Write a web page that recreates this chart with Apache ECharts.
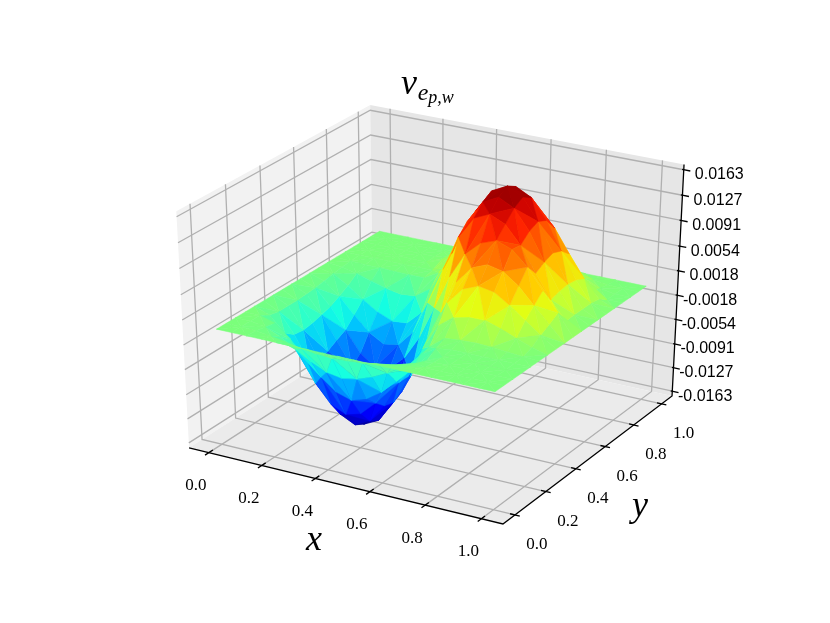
<!DOCTYPE html>
<html><head><meta charset="utf-8">
<style>html,body{margin:0;padding:0;background:#fff}#c{width:830px;height:623px}</style>
<script src="https://cdn.jsdelivr.net/npm/echarts@6/dist/echarts.min.js"></script>
</head><body><div id="c"></div>
<script>
// ---- data ----
const xTicks = [0, 0.2, 0.4, 0.6, 0.8, 1.0];
const yTicks = [0, 0.2, 0.4, 0.6, 0.8, 1.0];
const xTickLabels = ['0.0','0.2','0.4','0.6','0.8','1.0'];
const yTickLabels = ['0.0','0.2','0.4','0.6','0.8','1.0'];
const zTicks = [-0.0163,-0.0127,-0.0091,-0.0054,-0.0018,0.0018,0.0054,0.0091,0.0127,0.0163];
const zTickLabels = ['-0.0163','-0.0127','-0.0091','-0.0054','-0.0018','0.0018','0.0054','0.0091','0.0127','0.0163'];
// surface height in units of 1e-4; rows run along y, columns along x, 19 x 19 mesh nodes on [0,1]
const zUnit = 1e-4;
const zRows = [
[0,0,0,0,0,0,0,0,0,0,0,0,0,0,0,0,0,0,0],
[0,0,-1,-4,-8,-12,-15,-16,-15,-13,-10,-6,-2,0,0,0,0,0,0],
[0,0,-4,-14,-27,-40,-50,-54,-50,-42,-31,-18,-7,-1,0,0,0,0,0],
[0,0,-7,-25,-47,-71,-88,-95,-88,-73,-52,-30,-11,-2,0,0,0,0,0],
[0,-8,-30,-60,-94,-120,-130,-124,-103,-72,-42,-17,-3,0,0,0,0,0,0],
[0,-11,-40,-77,-116,-144,-155,-144,-116,-76,-45,-14,3,5,6,5,3,1,0],
[0,-11,-42,-82,-122,-152,-163,-152,-120,-76,-30,8,25,30,30,23,14,6,0],
[0,-11,-40,-77,-116,-144,-155,-144,-112,-62,-11,33,57,66,62,48,31,15,0],
[0,-10,-36,-69,-104,-129,-139,-129,-98,-47,6,54,79,88,83,67,44,22,0],
[0,-9,-32,-62,-92,-108,-104,-84,-49,0,49,86,106,114,106,86,57,30,0],
[0,-7,-25,-48,-69,-82,-78,-54,-6,47,98,129,139,129,104,69,36,10,0],
[0,-4,-17,-33,-47,-56,-54,-33,11,62,112,144,155,144,116,77,40,11,0],
[0,-2,-7,-14,-20,-24,-22,-7,30,76,120,152,163,152,122,82,42,11,0],
[0,-1,-2,-2,-3,-3,-3,9,38,76,116,144,155,144,116,77,40,11,0],
[0,0,0,0,0,0,0,9,34,65,98,121,130,121,98,65,34,9,0],
[0,0,0,0,0,0,7,25,47,71,88,95,88,71,47,25,7,0,0],
[0,0,0,0,0,0,4,14,27,40,50,54,50,40,27,14,4,0,0],
[0,0,0,0,0,0,1,4,8,12,15,16,15,12,8,4,1,0,0],
[0,0,0,0,0,0,0,0,0,0,0,0,0,0,0,0,0,0,0]
];
const zExtent = [-0.0163, 0.0163];
const jetColors = ['#00007f','#0000c8','#0000ff','#0040ff','#0080ff','#00bfff','#14ffe2','#48ffaf','#7bff7b','#afff48','#e2ff14','#ffd200','#ff9700','#ff5c00','#ff2100','#c80000','#7f0000'];

// ---- 3D view (elev 30, azim -60, dist 10) ----
const xLim = [-0.076, 1.076], yLim = [-0.076, 1.076], zLim = [-0.01705, 0.01705];
const el = 30*Math.PI/180, az = -60*Math.PI/180, dist = 10;
const U = [-Math.sin(az), Math.cos(az), 0];
const V = [-Math.sin(el)*Math.cos(az), -Math.sin(el)*Math.sin(az), Math.cos(el)];
const N = [Math.cos(el)*Math.cos(az), Math.cos(el)*Math.sin(az), Math.sin(el)];
const dot = (a,b)=>a[0]*b[0]+a[1]*b[1]+a[2]*b[2];
function project(c){ // c: unit-cube coordinates
  const p=[c[0]-.5,c[1]-.5,c[2]-.5], w=dist-dot(p,N);
  return [dot(p,U)/w, dot(p,V)/w, w];
}
const cube = (x,y,z)=>[(x-xLim[0])/(xLim[1]-xLim[0]),(y-yLim[0])/(yLim[1]-yLim[0]),(z-zLim[0])/(zLim[1]-zLim[0])];
const px = (api,c)=>{const q=project(c);return api.coord([q[0],q[1]]);};

// ---- surface triangles, far to near ----
const n = zRows.length-1, tris=[];
const node=(i,j)=>[i/n,j/n,zRows[j][i]*zUnit];
for(let j=0;j<n;j++)for(let i=0;i<n;i++){
  const a=node(i,j),b=node(i+1,j),c=node(i+1,j+1),d=node(i,j+1);
  const two=(i+j)%2===0?[[a,b,c],[a,c,d]]:[[a,b,d],[b,c,d]];
  two.forEach(t=>{
    const cs=t.map(p=>cube(p[0],p[1],p[2]));
    const depth=cs.reduce((s,c)=>s+project(c)[2],0)/3;
    tris.push({depth,row:[...t[0],...t[1],...t[2],(t[0][2]+t[1][2]+t[2][2])/3]});
  });
}
tris.sort((p,q)=>q.depth-p.depth);
const surfaceData=tris.map(t=>t.row);

// ---- box: panes, grid lines, axis lines, ticks (unit-cube coordinates) ----
const panes=[
 {c:[[0,0,0],[0,1,0],[0,1,1],[0,0,1]],fill:'#f2f2f2'},
 {c:[[0,1,0],[1,1,0],[1,1,1],[0,1,1]],fill:'#e6e6e6'},
 {c:[[0,0,0],[1,0,0],[1,1,0],[0,1,0]],fill:'#ebebeb'}
];
const grid=[],axes=[];
xTicks.forEach(x=>{const u=cube(x,0,0)[0];
  grid.push([[u,0,0],[u,1,0],[u,1,1]]);
  axes.push([[u,0.02,0],[u,-0.02,0]]);});
yTicks.forEach(y=>{const u=cube(0,y,0)[1];
  grid.push([[1,u,0],[0,u,0],[0,u,1]]);
  axes.push([[0.985,u,0],[1.015,u,0]]);});
zTicks.forEach(z=>{const u=cube(0,0,z)[2];
  grid.push([[0,0,u],[0,1,u],[1,1,u]]);
  axes.push([[0.995,1,u],[1.02,1,u]]);});
axes.push([[0,0,0],[1,0,0],[1,1,0],[1,1,1]]);

const labels=[];
const serif='"Liberation Serif",serif', sans='"Liberation Sans",sans-serif';
xTicks.forEach((x,i)=>labels.push({c:[cube(x,0,0)[0],0,0],t:xTickLabels[i],dx:-13,dy:33,align:'center',font:'17px '+serif}));
yTicks.forEach((y,i)=>labels.push({c:[1,cube(0,y,0)[1],0],t:yTickLabels[i],dx:22,dy:30,align:'center',font:'17px '+serif}));
zTicks.forEach((z,i)=>labels.push({c:[1,1,cube(0,0,z)[2]],t:zTickLabels[i],dx:60,dy:5,align:'right',font:'16px '+sans}));

const mathText=[
 {t:'v',x:409,y:85,s:36},{t:'e',x:423,y:94,s:24},{t:'p,w',x:441,y:98,s:18},
 {t:'x',x:314,y:541,s:36},{t:'y',x:640,y:507,s:36}
];

const chart=echarts.init(document.getElementById('c'),null,{renderer:'canvas'});
chart.setOption({
 animation:false,
 backgroundColor:'#ffffff',
 grid:{left:0,right:0,top:0,bottom:0},
 xAxis:{type:'value',min:-0.11987,max:0.10922,show:false},
 yAxis:{type:'value',min:-0.11685,max:0.11381,show:false},
 visualMap:{show:false,type:'continuous',seriesIndex:3,dimension:9,min:zExtent[0],max:zExtent[1],inRange:{color:jetColors}},
 graphic:mathText.map(m=>({type:'text',x:m.x,y:m.y,z:50,style:{text:m.t,fill:'#000',font:'italic '+m.s+'px '+serif,align:'center',verticalAlign:'middle'}})),
 series:[
  {type:'custom',coordinateSystem:'cartesian2d',z:1,silent:true,data:panes.map((p,i)=>[i]),encode:{x:[],y:[]},
   renderItem:(ps,api)=>{const p=panes[api.value(0)];return {type:'polygon',shape:{points:p.c.map(c=>px(api,c))},style:{fill:p.fill}};}},
  {type:'custom',coordinateSystem:'cartesian2d',z:2,silent:true,data:grid.map((g,i)=>[i]),encode:{x:[],y:[]},
   renderItem:(ps,api)=>{const g=grid[api.value(0)];return {type:'polyline',shape:{points:g.map(c=>px(api,c))},style:{fill:null,stroke:'#b0b0b0',lineWidth:1.3}};}},
  {type:'custom',coordinateSystem:'cartesian2d',z:3,silent:true,data:axes.map((g,i)=>[i]),encode:{x:[],y:[]},
   renderItem:(ps,api)=>{const g=axes[api.value(0)];return {type:'polyline',shape:{points:g.map(c=>px(api,c))},style:{fill:null,stroke:'#000',lineWidth:1.3}};}},
  {type:'custom',coordinateSystem:'cartesian2d',z:4,silent:true,progressive:0,data:surfaceData,encode:{x:[],y:[]},
   renderItem:(ps,api)=>{
     const pts=[0,3,6].map(k=>px(api,cube(api.value(k),api.value(k+1),api.value(k+2))));
     const col=api.visual('color');
     return {type:'polygon',shape:{points:pts},style:{fill:col,stroke:col,lineWidth:0.5}};
   }},
  {type:'custom',coordinateSystem:'cartesian2d',z:5,silent:true,data:labels.map((g,i)=>[i]),encode:{x:[],y:[]},
   renderItem:(ps,api)=>{const l=labels[api.value(0)],q=px(api,l.c);
     return {type:'text',style:{text:l.t,x:q[0]+l.dx,y:q[1]+l.dy,fill:'#000',font:l.font,align:l.align,verticalAlign:'middle'}};}}
 ]
});
</script></body></html>
